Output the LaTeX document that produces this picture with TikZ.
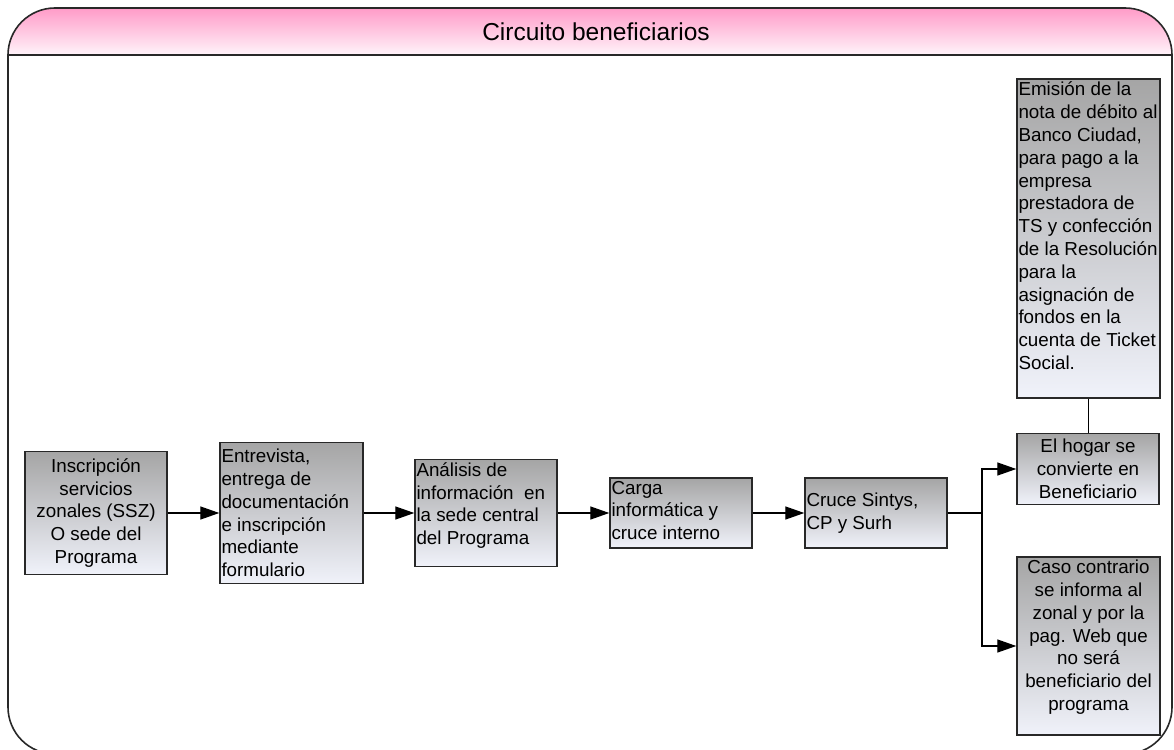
\documentclass[tikz,border=0pt]{standalone}
\usepackage{fontspec}
\setmainfont{Liberation Sans}
\usetikzlibrary{arrows.meta}
\definecolor{boxtop}{RGB}{165,165,165}
\definecolor{boxbot}{RGB}{240,242,250}
\definecolor{pinktop}{RGB}{255,155,200}
\definecolor{pinkbot}{RGB}{255,244,250}
\definecolor{edge}{RGB}{40,40,40}
\tikzset{
  box/.style={draw=edge, line width=1.4pt, top color=boxtop, bottom color=boxbot, inner sep=0pt},
  txt/.style={font=\fontsize{18.8}{22.8}\selectfont, inner xsep=2pt, inner ysep=1pt},
  toptxt/.style={txt, inner ysep=3.5pt},
  conn/.style={draw=black, line width=1.3pt},
  arr/.style={conn, -{Triangle[length=19pt,width=13pt]}},
}
\begin{document}
\begin{tikzpicture}[x=1pt,y=-1pt]
\useasboundingbox (0,0) rectangle (1174,749);
% header
\path[top color=pinktop, bottom color=pinkbot] (8,55) [rounded corners=47pt] -- (8,8) -- (1172,8) [sharp corners] -- (1172,55) -- cycle;
\draw[edge, line width=1.6pt, rounded corners=47pt] (8,8) rectangle (1172,754);
\draw[edge, line width=1.6pt] (8,55) -- (1172,55);
\node[font=\fontsize{24.5}{28}\selectfont] (title) at (596,32) {Circuito beneficiarios};
% boxes
\node[box, minimum width=142pt, minimum height=123pt] (b1) at (96,513) {};
\node[box, minimum width=143pt, minimum height=141pt] (b2) at (291.5,513) {};
\node[box, minimum width=142pt, minimum height=107pt] (b3) at (486,513) {};
\node[box, minimum width=142pt, minimum height=70pt] (b4) at (681,513) {};
\node[box, minimum width=142pt, minimum height=70pt] (b5) at (876,513) {};
\node[box, minimum width=142pt, minimum height=71pt] (b6) at (1088,469) {};
\node[box, minimum width=143pt, minimum height=178pt] (b7) at (1088.5,646) {};
\node[box, minimum width=143pt, minimum height=319pt] (b8) at (1088.5,238.5) {};
% texts
\node[txt, align=center] (t1) at (b1.center) {Inscripción\\servicios\\zonales (SSZ)\\O sede del\\Programa};
\node[txt, align=left, anchor=west] (t2) at (b2.west) {Entrevista,\\entrega de\\documentación\\e inscripción\\mediante\\formulario};
\node[toptxt, align=left, anchor=north west] (t3) at (b3.north west) {Análisis de\\información\ \ en\\la sede central\\del Programa};
\node[toptxt, align=left, anchor=north west] (t4) at (b4.north west) {Carga\\informática y\\cruce interno};
\node[txt, align=left, anchor=west] (t5) at (b5.west) {Cruce Sintys,\\CP y Surh};
\node[txt, align=center] (t6) at (b6.center) {El hogar se\\convierte en\\Beneficiario};
\node[toptxt, align=center, anchor=north] (t7) at (b7.north) {Caso contrario\\se informa al\\zonal y por la\\pag. Web que\\no será\\beneficiario del\\programa};
\node[toptxt, align=left, anchor=north west] (t8) at (b8.north west) {Emisión de la\\nota de débito al\\Banco Ciudad,\\para pago a la\\empresa\\prestadora de\\TS y confección\\de la Resolución\\para la\\asignación de\\fondos en la\\cuenta de Ticket\\Social.};
% connectors
\draw[arr] (b1.east) -- (b2.west);
\draw[arr] (b2.east) -- (b3.west);
\draw[arr] (b3.east) -- (b4.west);
\draw[arr] (b4.east) -- (b5.west);
\coordinate (j) at (982,513);
\draw[conn] (b5.east) -- (j);
\draw[arr] (j) |- (b6.west);
\draw[arr] (j) |- (b7.west);
\draw[conn] (b8.south) -- (b8.south |- b6.north);
\end{tikzpicture}
\end{document}
